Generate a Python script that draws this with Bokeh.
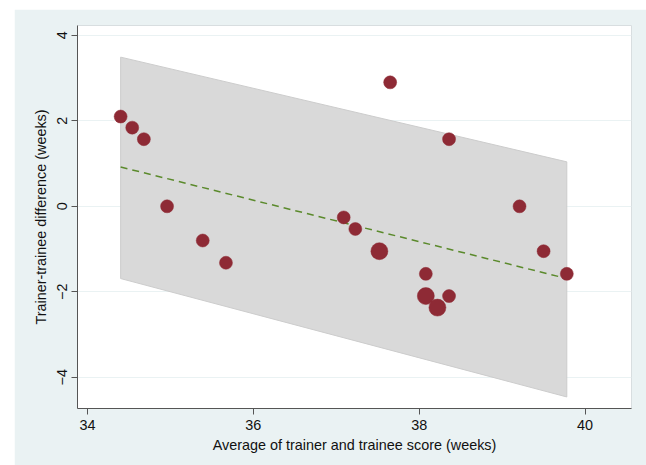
from bokeh.plotting import figure
from bokeh.models import Range1d, FixedTicker, ColumnDataSource
from bokeh.embed import file_html
from bokeh.resources import INLINE

# Data
avg_score = [34.40, 34.54, 34.68, 34.96, 35.39, 35.67, 37.09, 37.23, 37.52, 37.65,
             38.36, 38.08, 38.08, 38.22, 38.36, 39.21, 39.50, 39.78]
difference = [2.10, 1.84, 1.57, 0.00, -0.80, -1.32, -0.26, -0.53, -1.05, 2.90,
              1.57, -1.58, -2.10, -2.37, -2.10, 0.00, -1.05, -1.58]
weight = [1, 1, 1, 1, 1, 1, 1, 1, 2, 1, 1, 1, 2, 2, 1, 1, 1, 1]

band_x = [34.40, 39.78]
band_upper = [3.49, 1.04]
band_lower = [-1.69, -4.46]
fit_y = [0.92, -1.69]

x_ticks = [34, 36, 38, 40]
y_ticks = [-4, -2, 0, 2, 4]

BG = "#EAF2F3"
DOT = "#8E2A35"

p = figure(width=632, height=456, output_backend="svg", toolbar_location=None,
           x_range=Range1d(33.88, 40.56), y_range=Range1d(-4.73, 4.23),
           min_border_left=63, min_border_right=15, min_border_top=16, min_border_bottom=57)
p.margin = (9, 0, 0, 14)
p.border_fill_color = BG
p.background_fill_color = "white"
p.outline_line_color = "#D8DEE0"
p.outline_line_width = 1

# band
p.patch(x=band_x + band_x[::-1], y=band_upper + band_lower[::-1],
        fill_color="#D9D9D9", line_color="#CCCCCC", line_width=1)

# fitted line
p.line(x=band_x, y=fit_y, line_color="#5B8A2C", line_width=1.5, line_dash="7 5")

sizes = [13 if w == 1 else 17 for w in weight]
src = ColumnDataSource(dict(x=avg_score, y=difference, s=sizes))
p.scatter(x="x", y="y", size="s", source=src, fill_color=DOT, line_color=DOT,
          line_width=0.5, fill_alpha=1.0)

p.xgrid.visible = False
p.ygrid.grid_line_color = BG
p.ygrid.grid_line_width = 1
p.xaxis.ticker = FixedTicker(ticks=x_ticks)
p.yaxis.ticker = FixedTicker(ticks=y_ticks)
p.yaxis.major_label_orientation = "vertical"

for ax in (p.xaxis[0], p.yaxis[0]):
    ax.axis_line_color = "#555555"
    ax.axis_line_width = 1
    ax.major_tick_line_color = "#555555"
    ax.major_tick_out = 6
    ax.major_tick_in = 0
    ax.minor_tick_line_color = None
    ax.major_label_text_font = "Liberation Sans"
    ax.major_label_text_font_size = "14.4px"
    ax.major_label_text_color = "#111111"
    ax.axis_label_text_font = "Liberation Sans"
    ax.axis_label_text_font_size = "14.4px"
    ax.axis_label_text_font_style = "normal"
    ax.axis_label_text_color = "#111111"

p.xaxis.axis_label = "Average of trainer and trainee score (weeks)"
p.yaxis.axis_label = "Trainer-trainee difference (weeks)"
p.xaxis.major_label_standoff = 5
p.yaxis.major_label_standoff = 4
p.xaxis.axis_label_standoff = 4
p.yaxis.axis_label_standoff = 6

open("out.html", "w").write(file_html(p, INLINE))
